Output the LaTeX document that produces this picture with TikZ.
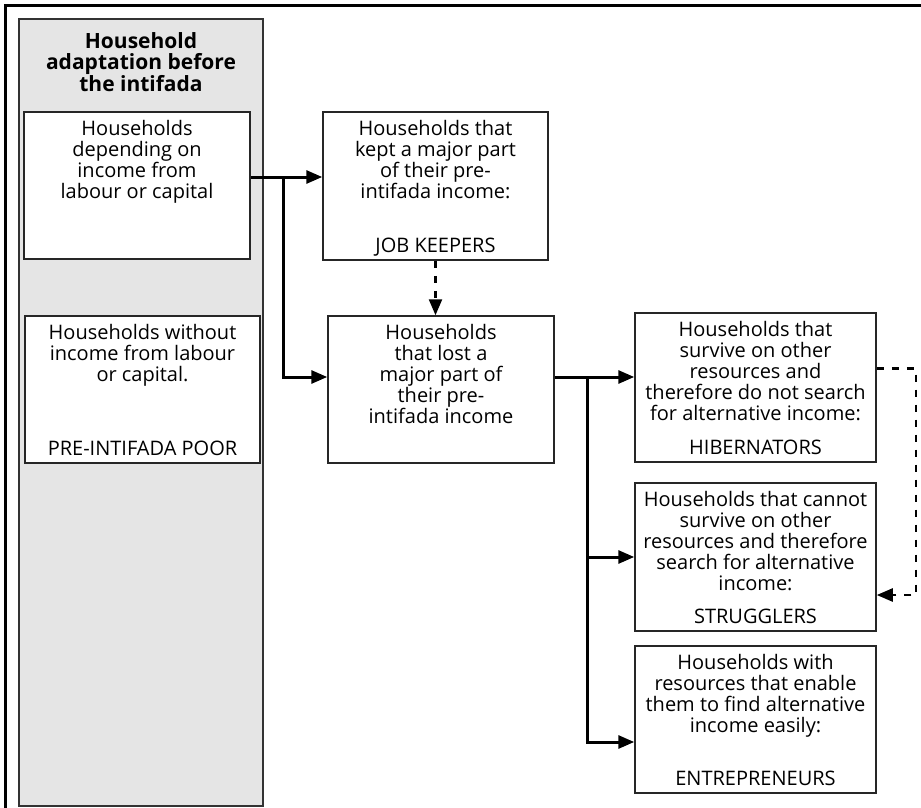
\documentclass[tikz,border=0pt]{standalone}
\usepackage{fontspec}
\setmainfont{Open Sans}
\usepackage{xcolor}
\usetikzlibrary{arrows.meta}

% box text: width, height, text at the top, label at the bottom
\newcommand{\boxtext}[4]{\parbox[c][#2][t]{#1}{\centering\rule{0pt}{23pt}#3\par\vfill #4\rule[-8pt]{0pt}{8pt}\par}}

\begin{document}
\begin{tikzpicture}[x=1pt,y=-1pt,
  every node/.style={font=\fontsize{20}{21}\selectfont},
  stage/.style={draw=black!85,line width=1.5pt,fill=white,inner sep=0pt},
  flow/.style={line width=3pt,-{Triangle[length=16pt,width=13pt]}},
  hint/.style={line width=2.4pt,dash pattern=on 7pt off 8pt,-{Triangle[length=16pt,width=13pt]}}]

\useasboundingbox (0,0) rectangle (921,808);
\draw[line width=3pt] (5.5,808) -- (5.5,5.5) -- (921,5.5);


% before the intifada
\node[draw=black!80,line width=1.5pt,fill=black!10,minimum width=244pt,minimum height=787pt,inner sep=0pt] (Column) at (141,412.5) {};
\node[align=center,inner sep=0pt,font=\fontsize{21}{21}\selectfont\bfseries] (Heading) at (141,62) {Household\\adaptation before\\the intifada};

\node[stage] (Depending) at (137,185.5) {\boxtext{226pt}{147pt}{Households\\depending on\\income from\\labour or capital}{}};
\node[stage] (Without) at (142.5,389.5) {\boxtext{235pt}{147pt}{Households without\\income from labour\\or capital.}{PRE-INTIFADA POOR}};


% during the intifada
\node[stage] (Keepers) at (435.5,186) {\boxtext{225pt}{148pt}{Households that\\kept a major part\\of their pre-\\intifada income:}{JOB KEEPERS}};
\node[stage] (Lost) at (441,389.5) {\boxtext{226pt}{147pt}{Households\\that lost a\\major part of\\their pre-\\intifada income}{}};

\node[stage] (Hibernators) at (755.5,387.5) {\boxtext{241pt}{149pt}{Households that\\survive on other\\resources and\\therefore do not search\\for alternative income:}{HIBERNATORS}};
\node[stage] (Strugglers) at (755.5,557) {\boxtext{241pt}{148pt}{Households that cannot\\survive on other\\resources and therefore\\search for alternative\\income:}{STRUGGLERS}};
\node[stage] (Entrepreneurs) at (755.5,719.5) {\boxtext{241pt}{147pt}{Households with\\resources that enable\\them to find alternative\\income easily:}{ENTREPRENEURS}};


\coordinate (SplitA) at (283,177);
\coordinate (SplitB) at (587,377);

\draw[flow] (Depending.east |- SplitA) -- (Keepers.west |- SplitA);
\draw[flow] (SplitA) |- ([yshift=12.5pt]Lost.west);
\draw[flow] ([yshift=12.5pt]Lost.east) -- ([yshift=10.5pt]Hibernators.west);
\draw[flow] (SplitB) |- (Strugglers.west);
\draw[flow] (SplitB) |- ([yshift=-22.5pt]Entrepreneurs.west);

\draw[hint] (Keepers.south) -- (Keepers.south |- Lost.north);
\draw[hint] ([yshift=19pt]Hibernators.east) -- ++(39,0) |- ([yshift=-38pt]Strugglers.east);

\end{tikzpicture}
\end{document}
